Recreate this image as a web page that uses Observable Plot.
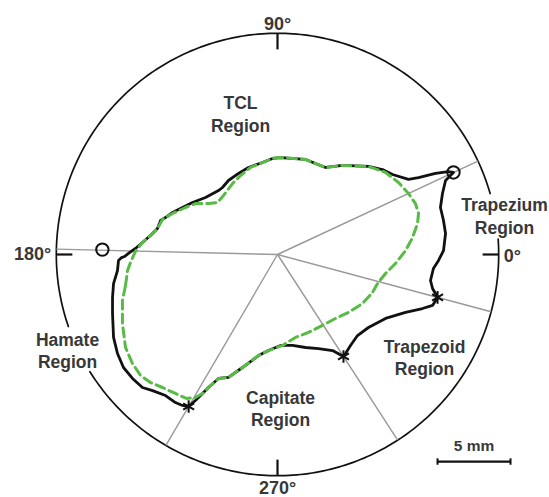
<!DOCTYPE html>
<html><head><meta charset="utf-8">
<script src="https://cdn.jsdelivr.net/npm/d3@7"></script>
<script src="https://cdn.jsdelivr.net/npm/@observablehq/plot@0.6"></script>
<style>body{margin:0;background:#fff}</style>
</head><body><div id="chart"></div>
<script>
// ---- data (millimetres, origin at the centroid) ----
const outerRadius = 15.15;               // mm
const circleArcs = [[16, 199], [212, 364]]; // drawn arcs of the outer circle (deg)
const degreeTicks = [0, 90, 180, 270];
const degreeLabels = ["0°", "90°", "180°", "270°"];
const spokeAngles = [25, 178.6, 239.7, 302.9, 345];
const circleMarkers = [{angle: 25, r: 13.3}, {angle: 178.4, r: 12.0}];
const asteriskMarkers = [{angle: 345, r: 11.35}, {angle: 302.9, r: 8.32}, {angle: 239.7, r: 12.06}];
const blackContour = [[12.05,5.62],[11.51,5.07],[11.30,4.18],[11.16,3.22],[11.37,2.33],[11.51,1.44],[11.37,0.27],[11.03,-0.41],[10.68,-0.96],[10.48,-1.78],[10.62,-2.33],[10.89,-2.81],[10.96,-2.95],[10.62,-3.49],[9.93,-3.70],[8.77,-3.97],[7.40,-4.38],[6.23,-5.00],[5.48,-5.55],[5.00,-6.23],[4.66,-6.78],[4.52,-6.99],[3.77,-6.58],[2.81,-6.44],[1.92,-6.37],[1.03,-6.23],[0.21,-6.23],[-0.62,-6.58],[-1.30,-6.92],[-2.40,-7.74],[-3.36,-8.42],[-4.04,-8.49],[-4.73,-9.11],[-5.14,-9.52],[-5.62,-10.00],[-6.10,-10.41],[-6.51,-10.34],[-6.99,-10.14],[-7.67,-9.66],[-8.56,-9.32],[-9.25,-9.11],[-9.93,-8.49],[-10.55,-7.74],[-10.96,-6.78],[-11.23,-5.68],[-11.30,-4.04],[-11.30,-2.95],[-11.23,-1.99],[-10.96,-1.10],[-10.89,-0.41],[-10.68,-0.21],[-10.48,-0.14],[-10.21,0.07],[-9.73,0.41],[-9.25,0.82],[-8.70,1.30],[-8.22,1.78],[-8.01,2.33],[-7.67,2.53],[-7.19,2.88],[-6.51,3.22],[-5.82,3.56],[-4.93,3.90],[-4.04,4.38],[-3.77,4.59],[-3.36,5.07],[-2.67,5.55],[-1.99,5.96],[-1.03,6.30],[-0.34,6.58],[0.21,6.64],[1.92,6.51],[2.60,6.23],[3.29,5.96],[4.45,6.10],[6.23,6.03],[7.19,5.82],[7.88,5.48],[8.97,5.14],[9.66,5.27],[10.82,5.55],[11.71,5.68]];
const greenContour = [[-10.41,-2.12],[-10.27,-1.10],[-10.07,-0.55],[-9.73,0.21],[-9.25,0.82],[-8.70,1.30],[-8.22,1.78],[-7.88,2.40],[-7.19,2.81],[-6.30,3.22],[-5.62,3.49],[-4.73,3.49],[-4.11,3.56],[-3.70,4.04],[-3.08,4.86],[-2.53,5.41],[-1.85,5.96],[-1.03,6.30],[-0.34,6.58],[0.21,6.64],[1.92,6.51],[2.60,6.23],[3.29,5.96],[4.45,6.10],[6.23,6.03],[7.40,5.62],[8.29,4.93],[8.97,4.18],[9.45,3.49],[9.66,2.81],[9.59,2.12],[9.25,1.16],[8.77,0.27],[8.08,-0.62],[7.40,-1.30],[6.85,-1.99],[6.51,-2.60],[5.82,-3.36],[4.86,-3.97],[3.97,-4.38],[3.08,-4.86],[2.12,-5.34],[1.23,-5.68],[0.34,-6.23],[-0.62,-6.58],[-1.30,-6.92],[-2.40,-7.74],[-3.36,-8.42],[-4.04,-8.49],[-4.73,-9.11],[-5.14,-9.52],[-5.62,-9.79],[-6.23,-9.86],[-6.99,-9.52],[-7.88,-9.11],[-8.70,-8.77],[-9.38,-8.29],[-9.93,-7.47],[-10.41,-6.37],[-10.62,-4.73],[-10.62,-3.15]];
const regionNames = ["TCL\nRegion", "Trapezium\nRegion", "Trapezoid\nRegion", "Capitate\nRegion", "Hamate\nRegion"];
const scaleBarLength = 5; // mm
const scaleBarLabel = "5 mm";

// ---- layout ----
const W = 549, H = 497, pxPerMm = 14.6, cx = 277, cy = 254;
const regionPos = [[-2.53, 9.66], [15.55, 2.67], [10.07, -6.99], [0.21, -10.51], [-14.38, -6.54]];
const scaleBarAt = [10.96, -14.18];
const rad = a => a * Math.PI / 180;
const px = (a, r) => r * Math.cos(rad(a));
const py = (a, r) => r * Math.sin(rad(a));

const arcPts = circleArcs.flatMap(([a0, a1], i) =>
  d3.range(a0, a1 + 0.01, 1).map(a => ({x: px(a, outerRadius), y: py(a, outerRadius), seg: i})));
const regions = regionNames.map((t, i) => ({text: t, x: regionPos[i][0], y: regionPos[i][1]}));
const degs = degreeTicks.map((a, i) => ({a, label: degreeLabels[i]}));
const ink = "#111", textFill = "#383838";
const font = {fontSize: 17.5, fontWeight: "bold", fill: textFill};
const degFont = {fontSize: 18, fontWeight: "bold", fill: textFill};

const chart = Plot.plot({
  width: W, height: H, margin: 0,
  x: {domain: [-cx / pxPerMm, (W - cx) / pxPerMm], axis: null},
  y: {domain: [(cy - H) / pxPerMm, cy / pxPerMm], axis: null},
  style: {fontFamily: "'Liberation Sans', Arial, sans-serif", background: "#fff"},
  marks: [
    Plot.line(arcPts, {x: "x", y: "y", z: "seg", stroke: ink, strokeWidth: 1.7}),
    Plot.link(spokeAngles, {x1: 0, y1: 0, x2: a => px(a, outerRadius), y2: a => py(a, outerRadius), stroke: "#999", strokeWidth: 1.4}),
    Plot.link(degreeTicks, {x1: a => px(a, outerRadius), y1: a => py(a, outerRadius), x2: a => px(a, outerRadius - 1.1), y2: a => py(a, outerRadius - 1.1), stroke: ink, strokeWidth: 2.2}),
    Plot.line(blackContour, {x: d => d[0], y: d => d[1], curve: "linear-closed", stroke: ink, strokeWidth: 2.8}),
    Plot.line(greenContour, {x: d => d[0], y: d => d[1], curve: "linear-closed", stroke: "#58bb45", strokeWidth: 3, strokeDasharray: "9,5"}),
    Plot.dot(circleMarkers, {x: d => px(d.angle, d.r), y: d => py(d.angle, d.r), r: 6.2, stroke: ink, strokeWidth: 2, fill: "none"}),
    Plot.dot(asteriskMarkers, {x: d => px(d.angle, d.r), y: d => py(d.angle, d.r), symbol: "asterisk", r: 6, stroke: ink, strokeWidth: 2}),
    Plot.text(degs.filter(d => d.a === 90), {x: 0, y: outerRadius, text: "label", lineAnchor: "bottom", dy: -3, ...degFont}),
    Plot.text(degs.filter(d => d.a === 270), {x: 0, y: -outerRadius, text: "label", lineAnchor: "top", dy: 6, ...degFont}),
    Plot.text(degs.filter(d => d.a === 180), {x: -outerRadius, y: 0, text: "label", textAnchor: "end", dx: -5, ...degFont}),
    Plot.text(degs.filter(d => d.a === 0), {x: outerRadius, y: 0, text: "label", textAnchor: "start", dx: 5, dy: 2, ...degFont}),
    Plot.text(regions, {x: "x", y: "y", text: "text", lineHeight: 1.28, ...font}),
    Plot.link([0], {x1: scaleBarAt[0], x2: scaleBarAt[0] + scaleBarLength, y1: scaleBarAt[1], y2: scaleBarAt[1], stroke: ink, strokeWidth: 2.2}),
    Plot.link([0, scaleBarLength], {x1: d => scaleBarAt[0] + d, x2: d => scaleBarAt[0] + d, y1: scaleBarAt[1] + 0.22, y2: scaleBarAt[1] - 0.22, stroke: ink, strokeWidth: 2}),
    Plot.text([scaleBarLabel], {x: scaleBarAt[0] + scaleBarLength / 2, y: scaleBarAt[1], text: d => d, dy: -15, fontSize: 15.5, fontWeight: "bold", fill: textFill})
  ]
});
document.getElementById("chart").append(chart);
</script>
</body></html>
